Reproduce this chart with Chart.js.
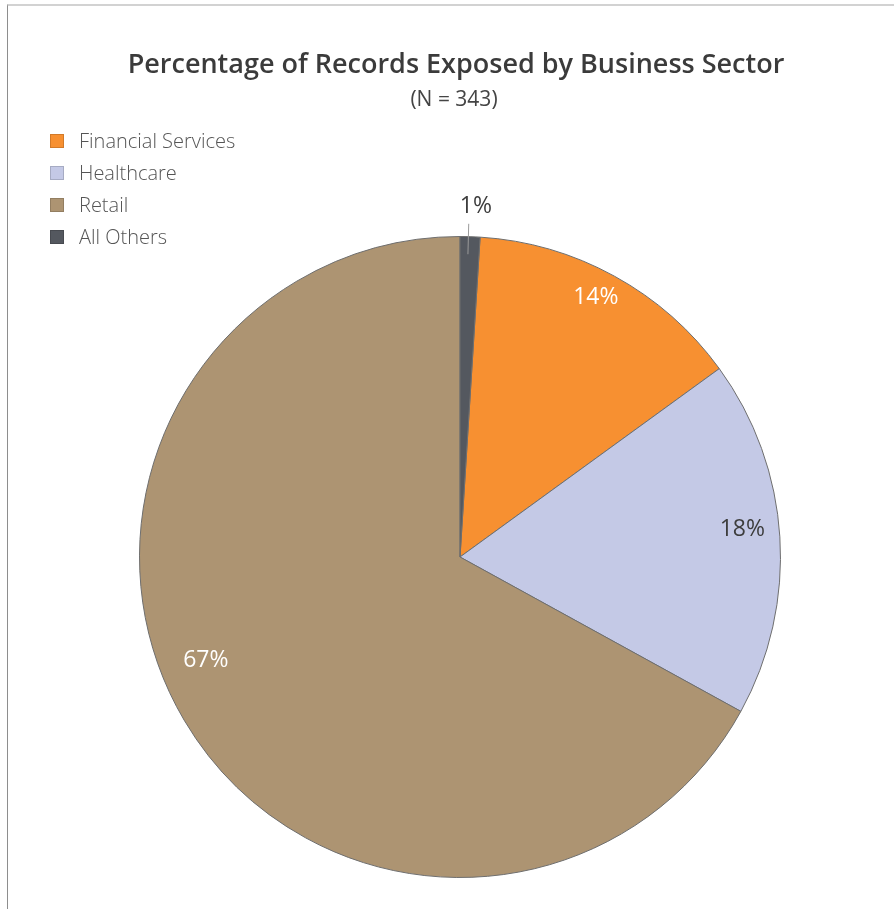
<!DOCTYPE html>
<html>
<head>
<meta charset="utf-8">
<title>Percentage of Records Exposed by Business Sector</title>
<script src="https://cdn.jsdelivr.net/npm/chart.js@4.4.1/dist/chart.umd.min.js"></script>
<style>
  html, body { margin: 0; padding: 0; background: #fff; overflow: hidden; }
  #wrap { position: relative; width: 894px; height: 909px; }
  #frame {
    position: absolute; left: 7px; top: 4px; right: 0; bottom: 0;
    border-top: 2px solid #d2d2d2; border-left: 1px solid #8e8e8e;
    pointer-events: none;
  }
</style>
</head>
<body>
<div id="wrap">
  <canvas id="sectorPie"></canvas>
  <div id="frame"></div>
</div>
<script>
// Dados do gráfico
const sectors = ['Financial Services', 'Healthcare', 'Retail', 'All Others'];
const shares = [14, 18, 67, 1];
const sectorColors = ['#f79031', '#c4c9e6', '#ad9472', '#54585f'];
const chartTitle = 'Percentage of Records Exposed by Business Sector';
const chartSubtitle = '(N = 343)';

const FONT = '"Open Sans", "Noto Sans", sans-serif';

/**
 * Título, subtítulo e legenda em coluna no canto superior esquerdo
 */
const headerPlugin = {
  id: 'header',
  afterDraw(chart) {
    const ctx = chart.ctx;
    ctx.save();
    ctx.textAlign = 'center';
    ctx.textBaseline = 'alphabetic';
    ctx.fillStyle = '#3b3b3b';
    ctx.font = '600 27px ' + FONT;
    ctx.fillText(chartTitle, 456, 73);
    ctx.font = '400 21px ' + FONT;
    ctx.fillStyle = '#444';
    ctx.fillText(chartSubtitle, 454, 106);

    // legenda
    ctx.textAlign = 'left';
    ctx.textBaseline = 'middle';
    ctx.font = '300 20px ' + FONT;
    chart.data.labels.forEach((label, i) => {
      const y = 141 + i * 32;
      ctx.fillStyle = chart.data.datasets[0].backgroundColor[i];
      ctx.fillRect(50, y - 7, 14, 14);
      ctx.strokeStyle = 'rgba(0,0,0,0.15)';
      ctx.lineWidth = 1;
      ctx.strokeRect(50.5, y - 6.5, 13, 13);
      ctx.fillStyle = '#555';
      ctx.fillText(label, 79, y + 1);
    });
    ctx.restore();
  }
};

/**
 * Rótulos de porcentagem sobre as fatias
 */
const sliceLabelPlugin = {
  id: 'sliceLabels',
  afterDatasetsDraw(chart, args, opts) {
    const ctx = chart.ctx;
    const meta = chart.getDatasetMeta(0);
    const values = chart.data.datasets[0].data;
    ctx.save();
    ctx.textAlign = 'center';
    ctx.textBaseline = 'middle';
    ctx.font = '400 23px ' + FONT;
    meta.data.forEach((arc, i) => {
      const p = opts.placement[i];
      const mid = (arc.startAngle + arc.endAngle) / 2 + p.shift * Math.PI / 180;
      const r = arc.outerRadius * p.radius;
      const x = arc.x + Math.cos(mid) * r;
      const y = arc.y + Math.sin(mid) * r;
      if (p.leader) {
        const a = (arc.startAngle + arc.endAngle) / 2 - 0.3 * Math.PI / 180;
        ctx.strokeStyle = '#9a9a9a';
        ctx.lineWidth = 1;
        ctx.beginPath();
        ctx.moveTo(arc.x + Math.cos(a) * arc.outerRadius * p.leader[0], arc.y + Math.sin(a) * arc.outerRadius * p.leader[0]);
        ctx.lineTo(arc.x + Math.cos(a) * arc.outerRadius * p.leader[1], arc.y + Math.sin(a) * arc.outerRadius * p.leader[1]);
        ctx.stroke();
      }
      ctx.fillStyle = p.color;
      ctx.fillText(values[i] + '%', x, y);
    });
    ctx.restore();
  }
};

const ctx = document.getElementById('sectorPie');
new Chart(ctx, {
  type: 'pie',
  data: {
    labels: sectors,
    datasets: [{
      data: shares,
      backgroundColor: sectorColors,
      borderColor: '#6e6e6e',
      borderWidth: 1
    }]
  },
  options: {
    responsive: true,
    maintainAspectRatio: false,
    animation: false,
    rotation: 3.6,
    layout: { padding: { left: 139, right: 113, top: 236, bottom: 31 } },
    plugins: {
      legend: { display: false },
      title: { display: false },
      tooltip: { enabled: false },
      sliceLabels: {
        placement: [
          { radius: 0.915, shift: -1.2, color: '#ffffff' },
          { radius: 0.885, shift: -1.9, color: '#3d3d3d' },
          { radius: 0.856, shift: 8.5, color: '#ffffff' },
          { radius: 1.094, shift: 0.8, color: '#3d3d3d', leader: [1.04, 0.945] }
        ]
      }
    }
  },
  plugins: [sliceLabelPlugin, headerPlugin]
});
</script>
</body>
</html>
